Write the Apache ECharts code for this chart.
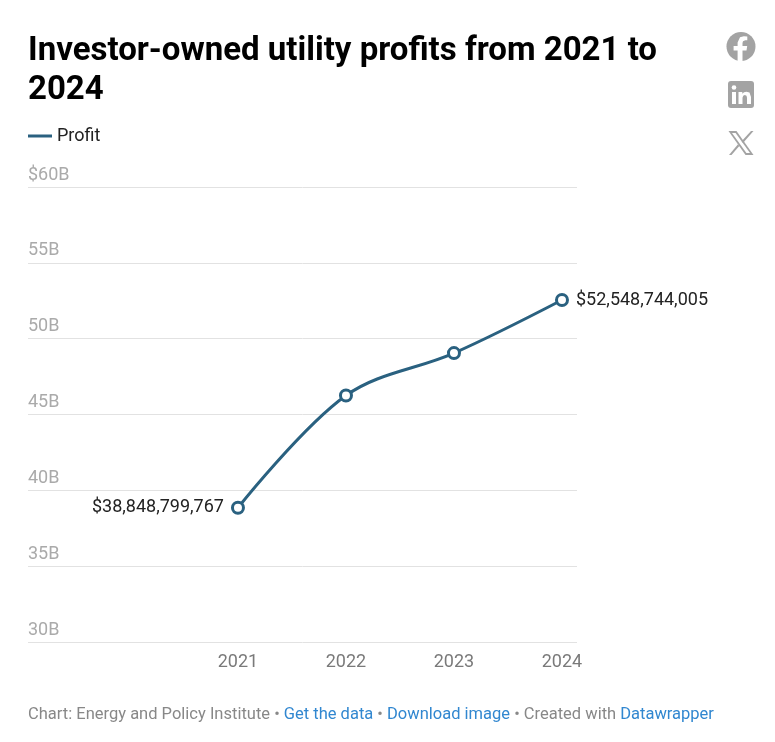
<!DOCTYPE html>
<html><head><meta charset="utf-8">
<style>html,body{margin:0;padding:0;background:#fff}#c{width:775px;height:742px}</style>
<script src="https://cdn.jsdelivr.net/npm/echarts@6/dist/echarts.min.js"></script>
</head><body><div id="c"></div>
<script>
const years = [2021, 2022, 2023, 2024];
const profit = [38848799767, 46250000000, 49050000000, 52548744005];
const yTicks = [30, 35, 40, 45, 50, 55, 60];
const F = 'Roboto, sans-serif';
const chart = echarts.init(document.getElementById('c'), null, {renderer:'canvas'});
const money = v => '$' + Math.round(v).toLocaleString('en-US');
const poly = (points, fill) => ({type:'polygon',shape:{points},style:{fill},silent:true});
chart.setOption({
  animation:false,
  backgroundColor:'#fff',
  title:[
    {text:'Investor-owned utility profits from 2021 to\n2024', left:28, top:32, padding:0,
     textStyle:{fontFamily:F,fontWeight:700,fontSize:33,lineHeight:39,color:'#000'}},
    {text:'{g|Chart: Energy and Policy Institute • }{b|Get the data}{g| • }{b|Download image}{g| • Created with }{b|Datawrapper}',
     left:28, top:706, padding:0,
     textStyle:{fontWeight:400,rich:{
       g:{fontFamily:F,fontSize:16.5,fontWeight:400,color:'#888888'},
       b:{fontFamily:F,fontSize:16.5,fontWeight:400,color:'#3187d0'}}}}
  ],
  legend:{left:28, top:127, padding:0, icon:'rect', itemWidth:24, itemHeight:3, itemGap:6,
    itemStyle:{color:'#2a6180',borderWidth:0},
    textStyle:{fontFamily:F,fontSize:18,color:'#222'}, data:['Profit']},
  grid:{left:28, right:198, top:187, height:455},
  xAxis:{type:'value', min:2019.056, max:2024.139,
    axisLine:{show:false}, axisTick:{show:false}, splitLine:{show:false},
    axisLabel:{customValues:years, formatter:v=>String(Math.round(v)), margin:11,
      fontFamily:F,fontSize:18,color:'#7a7a7a',hideOverlap:false,showMinLabel:true,showMaxLabel:true}},
  yAxis:{type:'value', min:30, max:60, interval:5,
    axisLine:{show:false}, axisTick:{show:false},
    splitLine:{show:true,lineStyle:{color:'#e2e2e2',width:1}},
    axisLabel:{inside:true, margin:0, verticalAlign:'bottom', align:'left', padding:[0,0,3,0],
      fontFamily:F,fontSize:18,color:'#aaaaaa',
      formatter:v=>(v===yTicks[yTicks.length-1]?'$':'')+v+'B'}},
  series:[{
    name:'Profit', type:'line', smooth:0.35,
    data:years.map((y,i)=>{
      const d={value:[y,profit[i]/1e9]};
      if(i===0) d.label={show:true,position:'left',distance:7,formatter:()=>money(profit[0])};
      if(i===years.length-1) d.label={show:true,position:'right',distance:7,formatter:()=>money(profit[i])};
      return d;
    }),
    lineStyle:{color:'#2a6180',width:3},
    itemStyle:{color:'#fff',borderColor:'#2a6180',borderWidth:3},
    symbol:'circle', symbolSize:11, showSymbol:true,
    label:{show:false,fontFamily:F,fontSize:18,color:'#222'},
    emphasis:{disabled:true}
  }],
  graphic:[
    {type:'circle',shape:{cx:741,cy:46.5,r:14.5},style:{fill:'#a3a3a3'},silent:true},
    poly([[742.5,61],[742.5,50.5],[746.5,50.5],[747.2,46],[742.5,46],[742.5,43],[743,41.2],[745.3,40.3],[747.3,40.3],[747.3,36.5],[743.8,36.2],[740,37.2],[737.6,42.6],[737.6,46],[733.6,46],[733.6,50.5],[737.6,50.5],[737.6,61]],'#fff'),
    {type:'rect',shape:{x:728,y:81,width:26,height:27,r:3},style:{fill:'#a3a3a3'},silent:true},
    {type:'rect',shape:{x:732,y:92,width:4,height:12},style:{fill:'#fff'},silent:true},
    {type:'circle',shape:{cx:734,cy:87.5,r:2.3},style:{fill:'#fff'},silent:true},
    poly([[738.5,92],[742.3,92],[742.3,93.8],[744,92.2],[746.3,91.7],[749.5,92.5],[751,97],[751,104],[747,104],[747,97.8],[746.5,95.8],[744.8,95],[743.2,95.8],[742.5,97.8],[742.5,104],[738.5,104]],'#fff'),
    poly([[728.5,131],[736.5,131],[753.5,155],[745.5,155]],'#a3a3a3'),
    poly([[732,133],[735.6,133],[750,153],[746.4,153]],'#fff'),
    poly([[751,131],[753.5,131],[743,143],[741.6,141.2]],'#a3a3a3'),
    poly([[729,155],[731.5,155],[739.3,146],[738,144.2]],'#a3a3a3')
  ]
});
</script></body></html>
